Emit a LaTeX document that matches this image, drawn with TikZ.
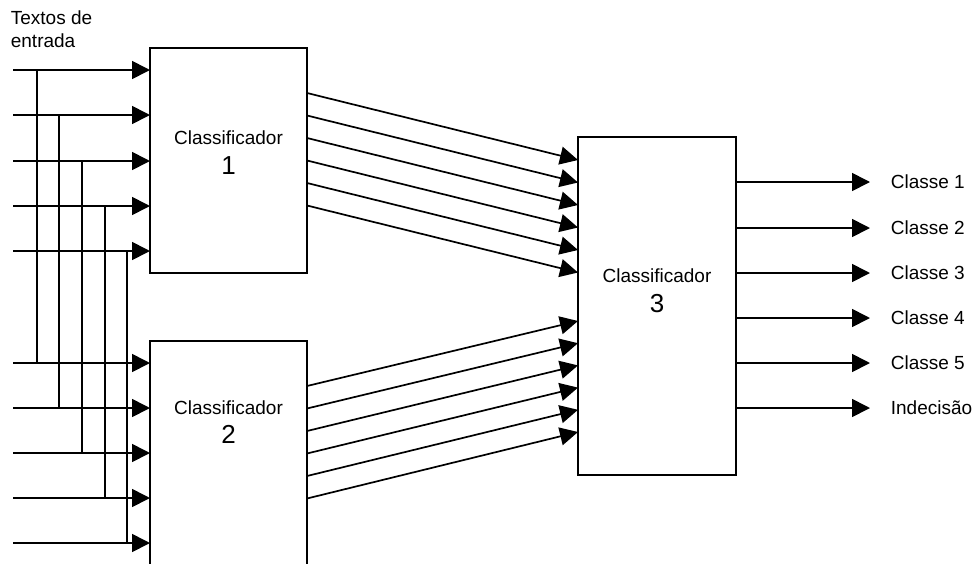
\documentclass[tikz,border=0pt]{standalone}
\usepackage{fontspec}
\setmainfont{Liberation Sans}
\usetikzlibrary{arrows.meta}
\begin{document}
\begin{tikzpicture}[x=1pt, y=-1pt,
  line width=1.7pt,
  classbox/.style={draw, rectangle, line width=1.7pt, inner sep=0pt, outer sep=0pt},
  flow/.style={-{Triangle[length=18pt,width=18pt]}},
  lbl/.style={font=\fontsize{19}{23}\selectfont, inner sep=0pt},
  num/.style={font=\fontsize{26}{30}\selectfont, inner sep=0pt},
]
\useasboundingbox (0,0) rectangle (977,563);
\begin{scope}
\clip (0,0) rectangle (977,563);

% the three classifier blocks
\node[classbox, minimum width=157pt, minimum height=225pt] (c1) at (228.5,160.5) {};
\node[classbox, minimum width=157pt, minimum height=270pt] (c2) at (228.5,476) {};
\node[classbox, minimum width=158pt, minimum height=338pt] (c3) at (657,306) {};

\node[lbl, anchor=base] (t1) at (228.5,144) {Classificador};
\node[num, anchor=base] (n1) at (228.5,174) {1};
\node[lbl, anchor=base] (t2) at (228.5,414) {Classificador};
\node[num, anchor=base] (n2) at (228.5,443) {2};
\node[lbl, anchor=base] (t3) at (657,282) {Classificador};
\node[num, anchor=base] (n3) at (657,312) {3};

% input texts, each fed to both first-level classifiers
\node[lbl, anchor=north west, align=left] (txt) at (10,10) {Textos de\\entrada};
\foreach \k/\ya/\yb/\xu in {0/70/363/37, 1/115/408/59, 2/161/453/82, 3/206/498/105, 4/251/543/127} {
  \coordinate (a\k) at (13,\ya);
  \coordinate (b\k) at (13,\yb);
  \coordinate (u\k) at (\xu,\ya);
  \draw[flow] (a\k) -- (a\k -| c1.west);
  \draw[flow] (b\k) -- (b\k -| c2.west);
  \draw (u\k) -- (u\k |- b\k);
}

% first-level outputs into the final classifier
\foreach \k in {0,...,5} {
  \draw[flow] ([yshift={-(45+22.5*\k)}]c1.north east) -- ([yshift={-(23+22.5*\k)}]c3.north west);
  \draw[flow] ([yshift={-(45+22.5*\k)}]c2.north east) -- ([yshift={-(184+22.2*\k)}]c3.north west);
}

% final decisions
\foreach \k/\name/\yk in {0/Classe 1/182,1/Classe 2/228,2/Classe 3/273,3/Classe 4/318,4/Classe 5/363,5/Indecisão/408} {
  \node[lbl, anchor=west] (k\k) at (890,\yk) {\name};
  \draw[flow] (c3.east |- k\k.west) -- ([xshift=-20pt]k\k.west);
}
\end{scope}
\end{tikzpicture}
\end{document}
